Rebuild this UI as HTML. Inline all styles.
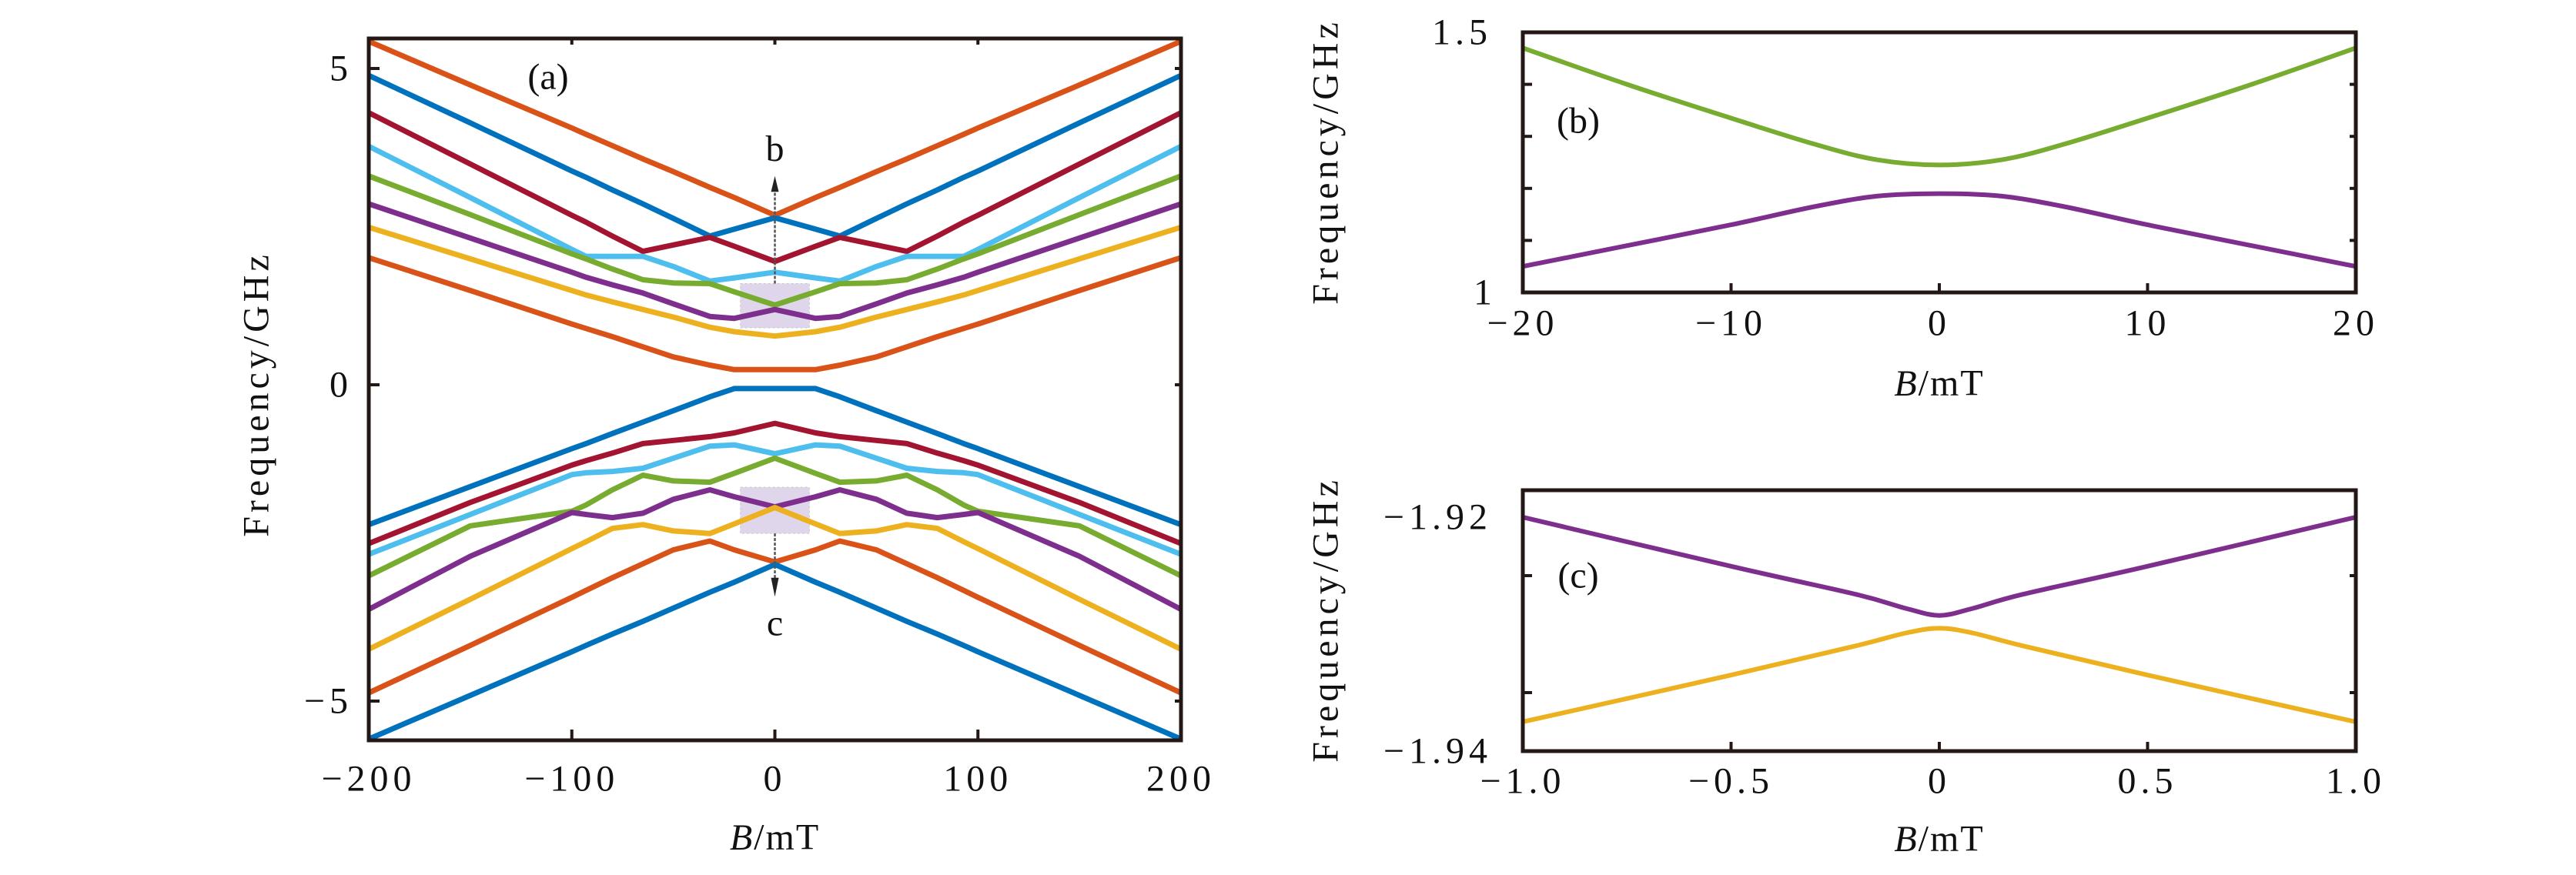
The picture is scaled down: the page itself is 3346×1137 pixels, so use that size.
<!DOCTYPE html>
<html><head><meta charset="utf-8">
<style>
html,body{margin:0;padding:0;background:#fff;}
svg text{font-family:"Liberation Serif",serif;fill:#111;}
</style></head>
<body>
<svg id="fig" width="3346" height="1132" viewBox="0 0 3346 1132" xmlns="http://www.w3.org/2000/svg">
<defs>
<clipPath id="clipA"><rect x="479" y="50" width="1055" height="912"/></clipPath>
<clipPath id="clipB"><rect x="1978" y="42" width="1082" height="338"/></clipPath>
<clipPath id="clipC"><rect x="1978" y="637" width="1082" height="339"/></clipPath>
</defs>
<g id="gA"></g>
<g id="gB"></g>
<g id="gC"></g>
</svg>
<script>
// ---- Panel (a) data ----
const bGridA = [-200,-150,-100,-93,-80,-65,-50,-32,-20,0,20,32,50,65,80,93,100,150,200];
const upOrange = [5.43,4.74,4.06,3.96,3.78,3.57,3.37,3.12,2.96,2.68,2.96,3.12,3.37,3.57,3.78,3.96,4.06,4.74,5.43];
const upBlue   = [4.89,4.14,3.38,3.28,3.08,2.86,2.63,2.35,2.46,2.64,2.46,2.35,2.63,2.86,3.08,3.28,3.38,4.14,4.89];
const upRed    = [4.30,3.49,2.68,2.57,2.35,2.11,2.21,2.33,2.19,1.95,2.19,2.33,2.21,2.11,2.35,2.57,2.68,3.49,4.30];
const upLight  = [3.77,2.96,2.14,2.03,2.03,2.03,1.87,1.64,1.69,1.78,1.69,1.64,1.87,2.03,2.03,2.03,2.14,2.96,3.77];
const upGreen  = [3.30,2.69,2.07,1.99,1.83,1.66,1.61,1.60,1.47,1.26,1.47,1.60,1.61,1.66,1.83,1.99,2.07,2.69,3.30];
const upPurple = [2.86,2.32,1.78,1.70,1.58,1.45,1.28,1.08,1.05,1.19,1.05,1.08,1.28,1.45,1.58,1.70,1.78,2.32,2.86];
const upYellow = [2.49,1.99,1.49,1.42,1.31,1.19,1.07,0.91,0.84,0.77,0.84,0.91,1.07,1.19,1.31,1.42,1.49,1.99,2.49];
const upOrange2= [2.01,1.49,0.96,0.89,0.76,0.60,0.44,0.31,0.24,0.24,0.24,0.31,0.44,0.60,0.76,0.89,0.96,1.49,2.01];
const loBlue   = [-2.21,-1.61,-1.01,-0.93,-0.77,-0.59,-0.41,-0.19,-0.06,-0.06,-0.06,-0.19,-0.41,-0.59,-0.77,-0.93,-1.01,-1.61,-2.21];
const loRed    = [-2.51,-1.86,-1.27,-1.20,-1.08,-0.93,-0.88,-0.82,-0.76,-0.61,-0.76,-0.82,-0.88,-0.93,-1.08,-1.20,-1.27,-1.86,-2.51];
const loLight  = [-2.68,-2.05,-1.42,-1.39,-1.37,-1.32,-1.16,-0.97,-0.95,-1.09,-0.95,-0.97,-1.16,-1.32,-1.37,-1.39,-1.42,-2.05,-2.68];
const loGreen  = [-3.02,-2.23,-2.00,-1.90,-1.66,-1.43,-1.52,-1.54,-1.40,-1.16,-1.40,-1.54,-1.52,-1.43,-1.66,-1.90,-2.00,-2.23,-3.02];
const loPurple = [-3.55,-2.71,-2.02,-2.05,-2.10,-2.03,-1.81,-1.66,-1.77,-1.93,-1.77,-1.66,-1.81,-2.03,-2.10,-2.05,-2.02,-2.71,-3.55];
const loYellow = [-4.18,-3.39,-2.59,-2.48,-2.27,-2.21,-2.31,-2.35,-2.20,-1.94,-2.20,-2.35,-2.31,-2.21,-2.27,-2.48,-2.59,-3.39,-4.18];
const loOrange = [-4.87,-4.12,-3.36,-3.25,-3.05,-2.83,-2.61,-2.47,-2.61,-2.80,-2.61,-2.47,-2.61,-2.83,-3.05,-3.25,-3.36,-4.12,-4.87];
const loBlue2  = [-5.60,-4.91,-4.22,-4.12,-3.94,-3.74,-3.53,-3.28,-3.12,-2.84,-3.12,-3.28,-3.53,-3.74,-3.94,-4.12,-4.22,-4.91,-5.60];
const xTicksA = [-200,-100,0,100,200];
const xTickLabelsA = ["−200","−100","0","100","200"];
const yTicksA = [-5,0,5];
const yTickLabelsA = ["−5","0","5"];
// ---- Panel (b) data ----
const bGridB = [-20,-15,-10,-6,-3,0,3,6,10,15,20];
const bGreen = [1.47,1.40,1.335,1.285,1.255,1.245,1.255,1.285,1.335,1.40,1.47];
const bPurple = [1.05,1.09,1.13,1.165,1.185,1.19,1.185,1.165,1.13,1.09,1.05];
const xTicksB = [-20,-10,0,10,20];
const xTickLabelsB = ["−20","−10","0","10","20"];
const yMinorB = [1.1,1.2,1.3,1.4];
// ---- Panel (c) data ----
const bGridC = [-1,-0.5,-0.2,-0.08,0,0.08,0.2,0.5,1];
const cPurple = [-1.920,-1.9242,-1.9266,-1.9278,-1.9284,-1.9278,-1.9266,-1.9242,-1.920];
const cYellow = [-1.9375,-1.9335,-1.9310,-1.9299,-1.9295,-1.9299,-1.9310,-1.9335,-1.9375];
const xTicksC = [-1,-0.5,0,0.5,1];
const xTickLabelsC = ["−1.0","−0.5","0","0.5","1.0"];
const yMinorC = [-1.925,-1.935];

const NS="http://www.w3.org/2000/svg";
const C={orange:"#D95319",blue:"#0072BD",red:"#A2142F",light:"#4DBEEE",green:"#77AC30",purple:"#7E2F8E",yellow:"#EDB120"};
const FS=48;
function mk(tag,attrs,parent){const e=document.createElementNS(NS,tag);for(const k in attrs)e.setAttribute(k,attrs[k]);parent.appendChild(e);return e;}

const xA=b=>479+(b+200)/400*1055, yA=f=>500-f*82.2;
const xB=b=>1978+(b+20)/40*1082, yB=f=>380-(f-1)/0.5*338;
const xC=b=>1978+(b+1)/2*1082, yC=f=>976-(f+1.94)/0.02*304;

function series(parent,grid,vals,xf,yf,color,w,clip,name){
  const pts=grid.map((b,i)=>xf(b).toFixed(1)+","+yf(vals[i]).toFixed(1)).join(" ");
  const p=mk("polyline",{points:pts,fill:"none",stroke:color,"stroke-width":w,"stroke-linejoin":"round","clip-path":"url(#"+clip+")"},parent);
  
  
}
function smooth(parent,grid,vals,xf,yf,color,w,clip,name){
  const P=grid.map((b,i)=>[xf(b),yf(vals[i])]);
  let d="M"+P[0][0]+","+P[0][1];
  for(let i=0;i<P.length-1;i++){
    const p0=P[Math.max(0,i-1)],p1=P[i],p2=P[i+1],p3=P[Math.min(P.length-1,i+2)];
    const c1=[p1[0]+(p2[0]-p0[0])/6,p1[1]+(p2[1]-p0[1])/6];
    const c2=[p2[0]-(p3[0]-p1[0])/6,p2[1]-(p3[1]-p1[1])/6];
    d+=` C${c1[0].toFixed(1)},${c1[1].toFixed(1)} ${c2[0].toFixed(1)},${c2[1].toFixed(1)} ${p2[0].toFixed(1)},${p2[1].toFixed(1)}`;
  }
  const p=mk("path",{d:d,fill:"none",stroke:color,"stroke-width":w,"clip-path":"url(#"+clip+")"},parent);
  
  
}
function text(parent,x,y,str,size,anchor,name,extra){
  const t=mk("text",Object.assign({x:x,y:y,"font-size":size,"text-anchor":anchor||"middle","dominant-baseline":"central"},extra||{}),parent);
  t.textContent=str;
  
  
  return t;
}
function frame(parent,x,y,w,h,name){
  const r=mk("rect",{x:x,y:y,width:w,height:h,fill:"none",stroke:"#231815","stroke-width":5},parent);
  
  
}
function tick(parent,x1,y1,x2,y2,name){
  const l=mk("line",{x1:x1,y1:y1,x2:x2,y2:y2,stroke:"#231815","stroke-width":4},parent);
  
  
}
const ylabAttrs=(tx,ty)=>({transform:`translate(${tx},${ty}) rotate(-90)`,"letter-spacing":"5"});
const tl={"letter-spacing":"6"};

// ---------- Panel A ----------
const gA=document.getElementById("gA");
const boxB=mk("rect",{x:xA(-17),y:yA(1.6),width:xA(17)-xA(-17),height:yA(0.9)-yA(1.6),fill:"#d9cde8",opacity:0.8,stroke:"#bbb","stroke-dasharray":"3,3"},gA);


const boxC=mk("rect",{x:xA(-17),y:yA(-1.62),width:xA(17)-xA(-17),height:yA(-2.35)-yA(-1.62),fill:"#d9cde8",opacity:0.8,stroke:"#bbb","stroke-dasharray":"3,3"},gA);


const sA=[[upOrange,C.orange,"upper-orange"],[upBlue,C.blue,"upper-blue"],[upRed,C.red,"upper-red"],[upLight,C.light,"upper-lightblue"],[upGreen,C.green,"upper-green"],[upPurple,C.purple,"upper-purple"],[upYellow,C.yellow,"upper-yellow"],[upOrange2,C.orange,"upper-orange-low"],
[loBlue,C.blue,"lower-blue-top"],[loRed,C.red,"lower-red"],[loLight,C.light,"lower-lightblue"],[loGreen,C.green,"lower-green"],[loPurple,C.purple,"lower-purple"],[loYellow,C.yellow,"lower-yellow"],[loOrange,C.orange,"lower-orange"],[loBlue2,C.blue,"lower-blue"]];
sA.forEach(s=>series(gA,bGridA,s[0],xA,yA,s[1],7,"clipA",s[2]));
const arB=mk("line",{x1:xA(0),y1:yA(1.6),x2:xA(0),y2:yA(3.15),stroke:"#555","stroke-width":2.5,"stroke-dasharray":"4,2"},gA);


const ahB=mk("polygon",{points:`${xA(0)},${yA(3.3)} ${xA(0)-5},${yA(3.05)} ${xA(0)+5},${yA(3.05)}`,fill:"#222"},gA);


const arC=mk("line",{x1:xA(0),y1:yA(-2.35),x2:xA(0),y2:yA(-3.2),stroke:"#555","stroke-width":2.5,"stroke-dasharray":"4,2"},gA);


const ahC=mk("polygon",{points:`${xA(0)},${yA(-3.35)} ${xA(0)-5},${yA(-3.05)} ${xA(0)+5},${yA(-3.05)}`,fill:"#222"},gA);


text(gA,xA(0),yA(3.73),"b",FS,"middle","arrow-label-b");
text(gA,xA(0),yA(-3.77),"c",FS,"middle","arrow-label-c");
frame(gA,479,50,1055,912,"frame-a");
xTicksA.forEach((v,i)=>{
  if(v>-200&&v<200){tick(gA,xA(v),962,xA(v),948,"x-tick-a");tick(gA,xA(v),50,xA(v),58,"x-tick-a-top");}
  text(gA,xA(v),1012,xTickLabelsA[i],FS,"middle","x-tick-label-a",tl);
});
yTicksA.forEach((v,i)=>{
  tick(gA,479,yA(v),493,yA(v),"y-tick-a");tick(gA,1534,yA(v),1526,yA(v),"y-tick-a-right");
  text(gA,458,yA(v),yTickLabelsA[i],FS,"end","y-tick-label-a",tl);
});
text(gA,xA(0),1088,"",FS,"middle","x-axis-title-a",{"letter-spacing":"2"}).innerHTML='<tspan font-style="italic">B</tspan>/mT';
text(gA,0,0,"Frequency/GHz",FS,"middle","y-axis-title-a",ylabAttrs(333,512));
text(gA,712,100,"(a)",FS,"middle","panel-label-a");

// ---------- Panel B ----------
const gB=document.getElementById("gB");
smooth(gB,bGridB,bGreen,xB,yB,C.green,6,"clipB","b-green-curve");
smooth(gB,bGridB,bPurple,xB,yB,C.purple,6,"clipB","b-purple-curve");
frame(gB,1978,42,1082,338,"frame-b");
xTicksB.forEach((v,i)=>{
  if(Math.abs(v)<20)tick(gB,xB(v),380,xB(v),368,"x-tick-b");
  text(gB,xB(v),420,xTickLabelsB[i],FS,"middle","x-tick-label-b",tl);
});
yMinorB.forEach(v=>{tick(gB,1978,yB(v),1990,yB(v),"y-tick-b");tick(gB,3060,yB(v),3052,yB(v),"y-tick-b-right");});
text(gB,1938,42,"1.5",FS,"end","y-tick-label-b",tl);
text(gB,1938,380,"1",FS,"end","y-tick-label-b");
text(gB,xB(0),498,"",FS,"middle","x-axis-title-b",{"letter-spacing":"2"}).innerHTML='<tspan font-style="italic">B</tspan>/mT';
text(gB,0,0,"Frequency/GHz",FS,"middle","y-axis-title-b",ylabAttrs(1722,210));
text(gB,2050,157,"(b)",FS,"middle","panel-label-b");

// ---------- Panel C ----------
const gC=document.getElementById("gC");
smooth(gC,bGridC,cPurple,xC,yC,C.purple,6,"clipC","c-purple-curve");
smooth(gC,bGridC,cYellow,xC,yC,C.yellow,6,"clipC","c-yellow-curve");
frame(gC,1978,637,1082,339,"frame-c");
xTicksC.forEach((v,i)=>{
  if(Math.abs(v)<1)tick(gC,xC(v),976,xC(v),964,"x-tick-c");
  text(gC,xC(v),1015,xTickLabelsC[i],FS,"middle","x-tick-label-c",tl);
});
yMinorC.forEach(v=>{tick(gC,1978,yC(v),1990,yC(v),"y-tick-c");tick(gC,3060,yC(v),3052,yC(v),"y-tick-c-right");});
text(gC,1938,yC(-1.92),"−1.92",FS,"end","y-tick-label-c",tl);
text(gC,1938,976,"−1.94",FS,"end","y-tick-label-c",tl);
text(gC,xC(0),1090,"",FS,"middle","x-axis-title-c",{"letter-spacing":"2"}).innerHTML='<tspan font-style="italic">B</tspan>/mT';
text(gC,0,0,"Frequency/GHz",FS,"middle","y-axis-title-c",ylabAttrs(1722,805));
text(gC,2050,748,"(c)",FS,"middle","panel-label-c");
</script>
</body></html>
